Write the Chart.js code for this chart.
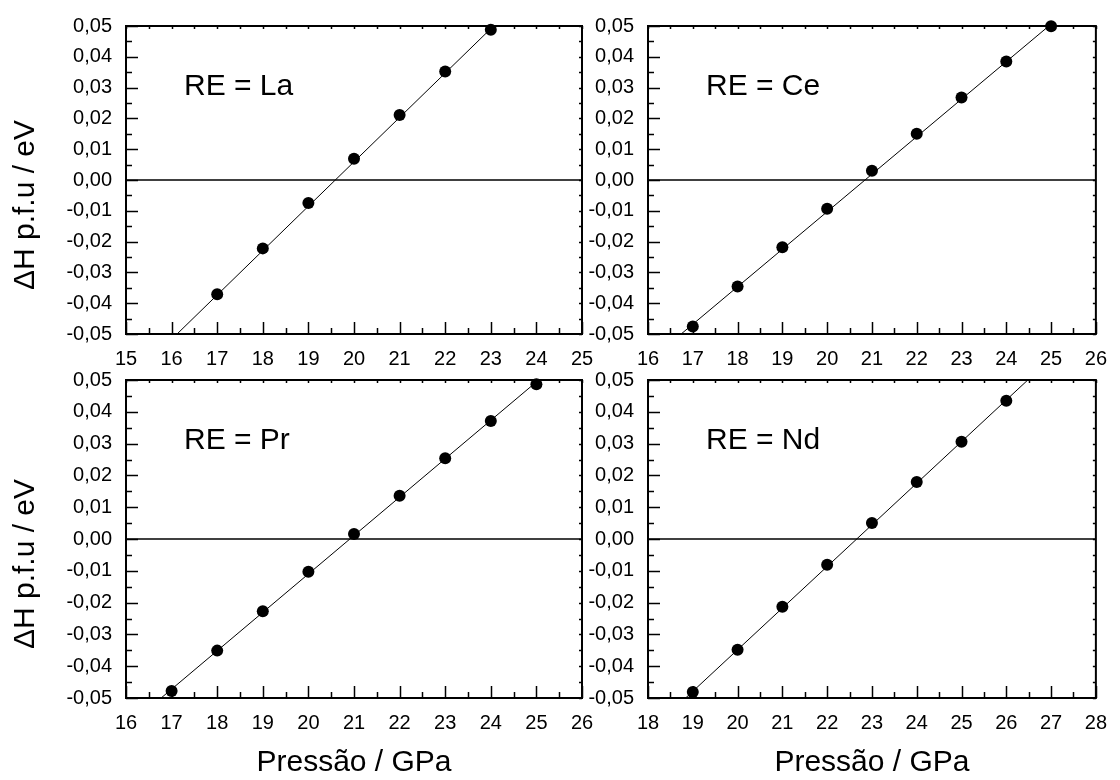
<!DOCTYPE html>
<html>
<head>
<meta charset="utf-8">
<script src="https://cdn.jsdelivr.net/npm/chart.js@4.4.1/dist/chart.umd.min.js"></script>
<style>
html,body{margin:0;padding:0;background:#fff;}
#wrap{position:relative;width:1120px;height:780px;overflow:hidden;background:#fff;}
#wrap canvas{position:absolute;left:0;top:0;}
</style>
</head>
<body>
<div id="wrap">
<canvas id="cLa" width="1120" height="780"></canvas>
<canvas id="cCe" width="1120" height="780"></canvas>
<canvas id="cPr" width="1120" height="780"></canvas>
<canvas id="cNd" width="1120" height="780"></canvas>
</div>
<script>
// ---------- data ----------
const panelLabels = ['RE = La', 'RE = Ce', 'RE = Pr', 'RE = Nd'];
const xAxisTitle = 'Pressão / GPa';
const yAxisTitle = '\u0394H p.f.u / eV';

const pressureLa = [17, 18, 19, 20, 21, 22, 23];
const dHLa       = [-0.0371, -0.0222, -0.0075, 0.0069, 0.0211, 0.0352, 0.0488];
const fitLaX     = [16.12, 23.06];
const fitLaY     = [-0.05, 0.05];

const pressureCe = [17, 18, 19, 20, 21, 22, 23, 24, 25];
const dHCe       = [-0.0476, -0.0346, -0.0218, -0.0093, 0.0030, 0.0150, 0.0268, 0.0385, 0.0499];
const fitCeX     = [16.74, 24.95];
const fitCeY     = [-0.05, 0.05];

const pressurePr = [17, 18, 19, 20, 21, 22, 23, 24, 25];
const dHPr       = [-0.0478, -0.0351, -0.0227, -0.0103, 0.0016, 0.0136, 0.0254, 0.0371, 0.0487];
const fitPrX     = [16.77, 25.05];
const fitPrY     = [-0.05, 0.05];

const pressureNd = [19, 20, 21, 22, 23, 24, 25, 26];
const dHNd       = [-0.0481, -0.0348, -0.0213, -0.0081, 0.0050, 0.0179, 0.0306, 0.0435];
const fitNdX     = [18.84, 26.48];
const fitNdY     = [-0.05, 0.05];

const xRangeLa = [15, 25];
const xRangeCe = [16, 26];
const xRangePr = [16, 26];
const xRangeNd = [18, 28];
const yRange   = [-0.05, 0.05];
const xStep = 1;
const yStep = 0.01;

// ---------- helpers ----------
const FONT = '"Liberation Sans", Arial, Helvetica, sans-serif';
const W = 1120, H = 780;

function pts(xs, ys) { return xs.map((x, i) => ({x: x, y: ys[i]})); }
function fmtY(v) {
  if (Math.abs(v) < 1e-9) v = 0;
  return v.toFixed(2).replace('.', ',');
}

const framePlugin = {
  id: 'frame',
  afterDraw(chart) {
    const {ctx, chartArea: a, scales} = chart;
    const xs = scales.x, ys = scales.y;
    ctx.save();
    ctx.strokeStyle = '#000';
    ctx.lineWidth = 1.5;
    ctx.beginPath();
    const nx = Math.round((xs.max - xs.min) / 0.5);
    for (let i = 0; i <= nx; i++) {
      const v = xs.min + i * 0.5;
      const px = Math.round(xs.getPixelForValue(v)) + 0.5;
      const len = (i % 2 === 0) ? 12 : 6;
      ctx.moveTo(px, a.bottom); ctx.lineTo(px, a.bottom - len);
      ctx.moveTo(px, a.top); ctx.lineTo(px, a.top + 3);
    }
    for (let i = -10; i <= 10; i++) {
      const v = i * 0.005;
      const py = Math.round(ys.getPixelForValue(v)) + 0.5;
      const len = (i % 2 === 0) ? 12 : 6;
      ctx.moveTo(a.left, py); ctx.lineTo(a.left + len, py);
      ctx.moveTo(a.right, py); ctx.lineTo(a.right - 3, py);
    }
    ctx.stroke();
    ctx.lineWidth = 2;
    ctx.strokeRect(a.left, a.top, a.right - a.left, a.bottom - a.top);
    const opt = chart.options.plugins.panelText || {};
    ctx.fillStyle = '#000';
    // panel label
    if (opt.label) {
      ctx.font = '30px ' + FONT;
      ctx.textAlign = 'left';
      ctx.textBaseline = 'alphabetic';
      ctx.fillText(opt.label, a.left + 58, a.top + 69);
    }
    // y axis title (sits a little below the panel centre, as in the reference)
    if (opt.yTitle) {
      ctx.save();
      ctx.translate(26, (a.top + a.bottom) / 2 + 25);
      ctx.rotate(-Math.PI / 2);
      ctx.font = '30px ' + FONT;
      ctx.textAlign = 'center';
      ctx.textBaseline = 'middle';
      ctx.fillText(opt.yTitle, 0, 0);
      ctx.restore();
    }
    ctx.restore();
  }
};

function makePanel(id, xs, ys, fitX, fitY, xRange, label, area, showYTitle, showXTitle) {
  const yW = showYTitle ? area.left : 70;
  const xH = showXTitle ? (H - area.bottom) : 40;
  return new Chart(document.getElementById(id), {
    type: 'scatter',
    data: {
      datasets: [
        {
          label: 'zero',
          data: [{x: xRange[0], y: 0}, {x: xRange[1], y: 0}],
          showLine: true, borderColor: '#000', borderWidth: 1.5,
          pointRadius: 0, order: 3
        },
        {
          label: 'fit',
          data: pts(fitX, fitY),
          showLine: true, borderColor: '#000', borderWidth: 1,
          pointRadius: 0, order: 2
        },
        {
          label: label,
          data: pts(xs, ys),
          showLine: false, pointRadius: 6, pointHoverRadius: 6,
          pointBackgroundColor: '#000', pointBorderColor: '#000', pointBorderWidth: 0,
          clip: false, order: 1
        }
      ]
    },
    options: {
      responsive: false,
      animation: false,
      devicePixelRatio: 1,
      events: [],
      layout: {
        padding: {
          left: area.left - yW,
          top: area.top,
          right: W - area.right,
          bottom: H - area.bottom - xH
        }
      },
      plugins: {
        legend: {display: false},
        tooltip: {enabled: false},
        panelText: {label: label, yTitle: showYTitle ? yAxisTitle : ''}
      },
      scales: {
        x: {
          type: 'linear', position: 'bottom',
          min: xRange[0], max: xRange[1],
          grid: {display: false, drawTicks: false},
          border: {display: false},
          ticks: {
            stepSize: xStep, padding: 13, color: '#000', maxRotation: 0,
            font: {family: FONT, size: 20},
            callback: v => String(Math.round(v))
          },
          title: {
            display: showXTitle, text: xAxisTitle, color: '#000',
            font: {family: FONT, size: 30, lineHeight: 1},
            padding: {top: 0, bottom: 2}
          },
          afterFit: s => { s.height = xH; }
        },
        y: {
          type: 'linear', position: 'left',
          min: yRange[0], max: yRange[1],
          grid: {display: false, drawTicks: false},
          border: {display: false},
          ticks: {
            stepSize: yStep, padding: 14, color: '#000',
            font: {family: FONT, size: 20},
            callback: v => fmtY(v)
          },
          title: {display: false},
          afterFit: s => { s.width = yW; }
        }
      }
    },
    plugins: [framePlugin]
  });
}

makePanel('cLa', pressureLa, dHLa, fitLaX, fitLaY, xRangeLa, panelLabels[0],
  {left: 126, top: 17, right: 582, bottom: 334}, true, false);
makePanel('cCe', pressureCe, dHCe, fitCeX, fitCeY, xRangeCe, panelLabels[1],
  {left: 648, top: 17, right: 1104, bottom: 334}, false, false);
makePanel('cPr', pressurePr, dHPr, fitPrX, fitPrY, xRangePr, panelLabels[2],
  {left: 126, top: 380, right: 582, bottom: 698}, true, true);
makePanel('cNd', pressureNd, dHNd, fitNdX, fitNdY, xRangeNd, panelLabels[3],
  {left: 648, top: 380, right: 1104, bottom: 698}, false, true);
</script>
</body>
</html>
